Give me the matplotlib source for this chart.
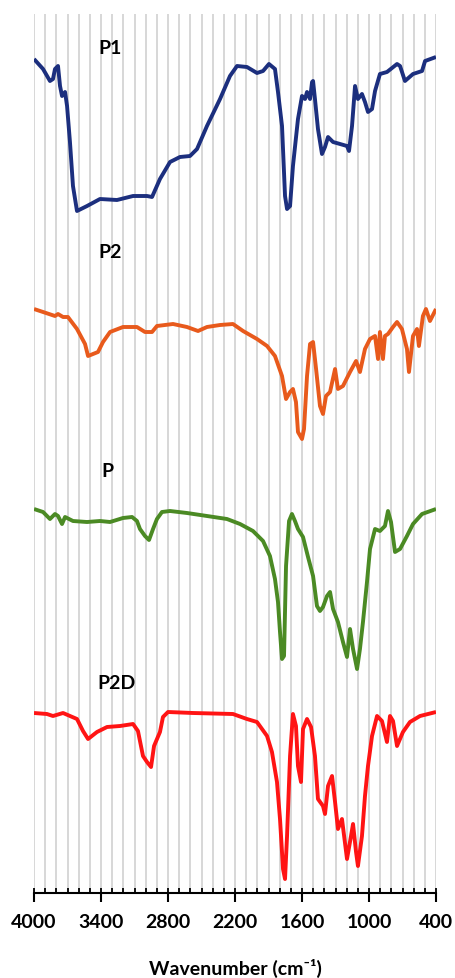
import matplotlib
matplotlib.use("Agg")
import matplotlib.pyplot as plt
from matplotlib.ticker import MultipleLocator, FixedLocator

plt.rcParams['font.family'] = ['Lato', 'DejaVu Sans']

# FTIR spectra: wavenumber (cm-1) and transmittance (a.u.)
p1_wn = [4000, 3919, 3857, 3830, 3812, 3785, 3767, 3749, 3722, 3704, 3678, 3651,
         3615, 3525, 3409, 3257, 3113, 2988, 2943, 2872, 2782, 2693, 2603, 2540,
         2451, 2334, 2245, 2182, 2093, 2003, 1949, 1896, 1842, 1815, 1779, 1752,
         1734, 1707, 1681, 1636, 1600, 1573, 1555, 1528, 1510, 1501, 1484, 1457,
         1421, 1394, 1367, 1322, 1197, 1179, 1152, 1125, 1099, 1063, 1036, 1009,
         973, 946, 902, 839, 749, 722, 678, 606, 525, 498, 400]
p1_t = [160, 150, 138, 140, 150, 153, 133, 123, 127, 113, 77, 33,
        8, 13, 20, 19, 23, 23, 22, 40, 57, 62, 63, 70,
        93, 120, 143, 153, 152, 146, 148, 155, 150, 127, 93, 23,
        10, 13, 53, 100, 123, 120, 127, 120, 137, 138, 120, 90,
        65, 72, 82, 77, 73, 68, 93, 133, 120, 125, 117, 107,
        110, 128, 145, 147, 155, 153, 138, 145, 148, 158, 162]

p2_wn = [4000, 3919, 3812, 3785, 3740, 3696, 3615, 3543, 3516, 3427, 3382, 3319,
         3203, 3078, 3006, 2943, 2899, 2755, 2630, 2531, 2451, 2334, 2218, 2128,
         2003, 1913, 1842, 1779, 1743, 1707, 1681, 1654, 1636, 1600, 1582, 1555,
         1528, 1501, 1474, 1439, 1412, 1385, 1349, 1304, 1278, 1233, 1170, 1116,
         1081, 1036, 991, 946, 919, 902, 875, 857, 830, 785, 749, 705,
         660, 642, 606, 570, 553, 517, 490, 454, 400]
p2_t = [140, 137, 133, 135, 132, 132, 120, 105, 93, 97, 107, 117,
        122, 122, 117, 117, 123, 125, 122, 118, 122, 124, 125, 118,
        110, 103, 93, 73, 50, 57, 60, 47, 17, 10, 20, 73,
        105, 107, 80, 43, 35, 53, 57, 80, 60, 63, 77, 88,
        77, 100, 110, 113, 90, 117, 90, 113, 115, 122, 127, 120,
        100, 77, 113, 120, 103, 133, 140, 128, 140]

p_wn = [4000, 3919, 3857, 3812, 3785, 3749, 3722, 3651, 3525, 3409, 3319, 3203,
        3122, 3078, 3051, 3006, 2970, 2934, 2899, 2854, 2782, 2630, 2451, 2272,
        2155, 2039, 1949, 1887, 1842, 1815, 1797, 1779, 1761, 1743, 1716, 1690,
        1663, 1636, 1591, 1546, 1501, 1466, 1439, 1412, 1376, 1349, 1322, 1278,
        1233, 1197, 1170, 1143, 1107, 1081, 1054, 1018, 991, 946, 902, 857,
        830, 803, 767, 722, 660, 606, 525, 400]
p_t = [170, 167, 160, 165, 163, 155, 162, 158, 157, 158, 157, 161,
       162, 158, 150, 143, 139, 150, 160, 167, 168, 166, 163, 160,
       155, 148, 138, 123, 100, 77, 47, 20, 23, 113, 158, 165,
       158, 150, 142, 122, 103, 73, 68, 72, 83, 87, 70, 57,
       37, 22, 50, 30, 10, 30, 57, 97, 130, 150, 148, 153,
       168, 157, 127, 130, 143, 155, 165, 170]

p2d_wn = [4000, 3884, 3830, 3740, 3615, 3561, 3516, 3436, 3346, 3230, 3113, 3069,
          3024, 2988, 2952, 2925, 2872, 2845, 2800, 2576, 2218, 2093, 2003, 1913,
          1869, 1824, 1797, 1770, 1752, 1734, 1707, 1681, 1654, 1636, 1609, 1591,
          1555, 1519, 1484, 1457, 1412, 1394, 1367, 1331, 1304, 1278, 1242, 1197,
          1161, 1143, 1116, 1099, 1063, 1036, 1009, 973, 928, 884, 839, 812,
          785, 749, 696, 633, 543, 400]
p2d_t = [176, 175, 173, 176, 170, 158, 150, 157, 162, 163, 165, 158,
         133, 127, 122, 143, 157, 172, 177, 176, 175, 170, 167, 153,
         137, 107, 70, 20, 10, 53, 133, 175, 163, 123, 107, 160,
         170, 162, 133, 90, 83, 75, 103, 113, 87, 60, 70, 30,
         53, 65, 37, 23, 53, 93, 123, 153, 173, 168, 147, 173,
         168, 143, 157, 167, 173, 177]

names = ['P1', 'P2', 'P', 'P2D']
spectra = [(p1_wn, p1_t), (p2_wn, p2_t), (p_wn, p_t), (p2d_wn, p2d_t)]
colors = ['#1c2f7e', '#e85a1c', '#4b8a24', '#ff1414']
offsets = [674, 444, 214, 4]           # vertical stacking of the traces
label_x = [3320, 3320, 3342, 3261]     # label anchors (cm-1)
label_y = [845, 641, 422, 210]         # label heights in stacked units

fig = plt.figure(figsize=(4.56, 9.79), dpi=100)
ax = fig.add_axes([34 / 456, 85 / 979, 402 / 456, 879 / 979])

for (wn, t), c, off in zip(spectra, colors, offsets):
    ax.plot(wn, [v + off for v in t], color=c, lw=2.8, solid_joinstyle='round',
            solid_capstyle='butt', zorder=3)

for name, lx, ly in zip(names, label_x, label_y):
    ax.text(lx, ly, name, ha='center', va='center', fontsize=14,
            fontweight='bold', color='black')

ax.set_xlim(4000, 400)
ax.set_ylim(0, 879)

ax.xaxis.set_major_locator(FixedLocator([4000, 3400, 2800, 2200, 1600, 1000, 400]))
ax.xaxis.set_minor_locator(MultipleLocator(100))
ax.xaxis.remove_overlapping_locs = False
ax.grid(which='minor', axis='x', color='#d4d4d4', lw=1.3, zorder=0)
ax.grid(which='major', visible=False)

ax.tick_params(axis='x', which='major', direction='out', length=6.5, width=1.5,
               color='black', pad=8, labelsize=14)
ax.tick_params(axis='x', which='minor', direction='in', length=3.5, width=1.3,
               color='black')
for lbl in ax.get_xticklabels():
    lbl.set_fontweight('bold')

ax.set_yticks([])
for s in ['top', 'right', 'left']:
    ax.spines[s].set_visible(False)
ax.spines['bottom'].set_linewidth(1.5)

ax.set_xlabel('Wavenumber (cm⁻¹)', fontsize=14, fontweight='bold', labelpad=20)

fig.savefig('out.png', dpi=100)
